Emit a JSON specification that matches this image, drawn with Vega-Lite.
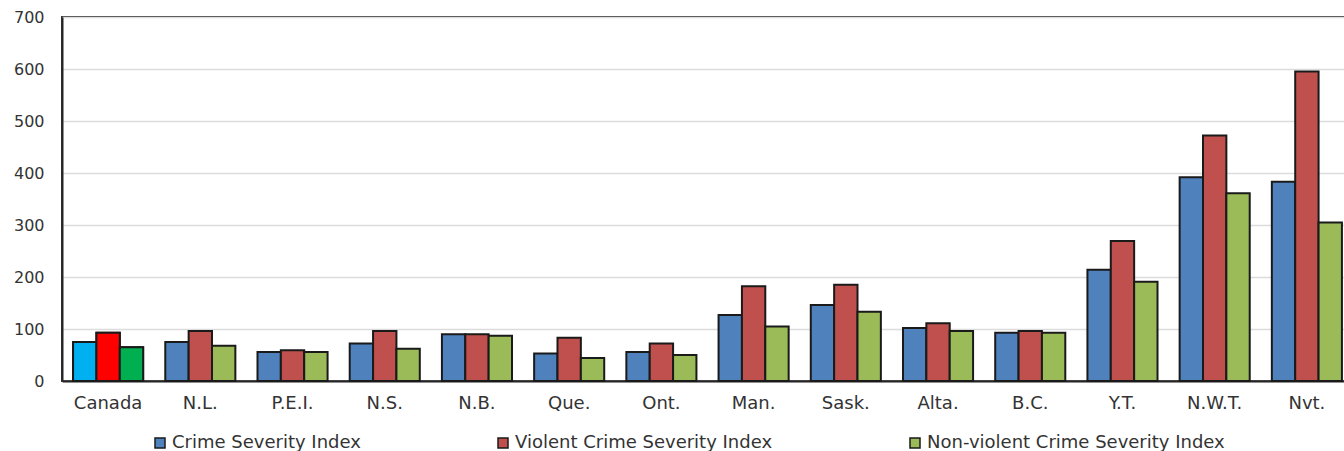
{
  "$schema": "https://vega.github.io/schema/vega-lite/v6.json",
  "autosize": {"type": "none"},
  "padding": {"left": 62, "top": 17, "right": 0, "bottom": 70},
  "width": 1291,
  "height": 364,
  "background": "#ffffff",
  "config": {
    "font": "DejaVu Sans",
    "view": {"stroke": "#333333", "strokeWidth": 2},
    "axis": {
      "labelFont": "DejaVu Sans",
      "labelColor": "#333333",
      "ticks": false,
      "tickSize": 0,
      "title": null,
      "domainColor": "#262626",
      "domainWidth": 2
    }
  },
  "data": {
    "values": [
      {"region": "Canada", "series": "Crime Severity Index", "value": 75},
      {"region": "Canada", "series": "Violent Crime Severity Index", "value": 93},
      {"region": "Canada", "series": "Non-violent Crime Severity Index", "value": 65},
      {"region": "N.L.", "series": "Crime Severity Index", "value": 75},
      {"region": "N.L.", "series": "Violent Crime Severity Index", "value": 96},
      {"region": "N.L.", "series": "Non-violent Crime Severity Index", "value": 68},
      {"region": "P.E.I.", "series": "Crime Severity Index", "value": 56},
      {"region": "P.E.I.", "series": "Violent Crime Severity Index", "value": 59},
      {"region": "P.E.I.", "series": "Non-violent Crime Severity Index", "value": 56},
      {"region": "N.S.", "series": "Crime Severity Index", "value": 72},
      {"region": "N.S.", "series": "Violent Crime Severity Index", "value": 96},
      {"region": "N.S.", "series": "Non-violent Crime Severity Index", "value": 62},
      {"region": "N.B.", "series": "Crime Severity Index", "value": 90},
      {"region": "N.B.", "series": "Violent Crime Severity Index", "value": 90},
      {"region": "N.B.", "series": "Non-violent Crime Severity Index", "value": 87},
      {"region": "Que.", "series": "Crime Severity Index", "value": 53},
      {"region": "Que.", "series": "Violent Crime Severity Index", "value": 83},
      {"region": "Que.", "series": "Non-violent Crime Severity Index", "value": 44},
      {"region": "Ont.", "series": "Crime Severity Index", "value": 56},
      {"region": "Ont.", "series": "Violent Crime Severity Index", "value": 72},
      {"region": "Ont.", "series": "Non-violent Crime Severity Index", "value": 50},
      {"region": "Man.", "series": "Crime Severity Index", "value": 127},
      {"region": "Man.", "series": "Violent Crime Severity Index", "value": 182},
      {"region": "Man.", "series": "Non-violent Crime Severity Index", "value": 105},
      {"region": "Sask.", "series": "Crime Severity Index", "value": 146},
      {"region": "Sask.", "series": "Violent Crime Severity Index", "value": 185},
      {"region": "Sask.", "series": "Non-violent Crime Severity Index", "value": 133},
      {"region": "Alta.", "series": "Crime Severity Index", "value": 102},
      {"region": "Alta.", "series": "Violent Crime Severity Index", "value": 111},
      {"region": "Alta.", "series": "Non-violent Crime Severity Index", "value": 96},
      {"region": "B.C.", "series": "Crime Severity Index", "value": 93},
      {"region": "B.C.", "series": "Violent Crime Severity Index", "value": 96},
      {"region": "B.C.", "series": "Non-violent Crime Severity Index", "value": 93},
      {"region": "Y.T.", "series": "Crime Severity Index", "value": 214},
      {"region": "Y.T.", "series": "Violent Crime Severity Index", "value": 269},
      {"region": "Y.T.", "series": "Non-violent Crime Severity Index", "value": 191},
      {"region": "N.W.T.", "series": "Crime Severity Index", "value": 392},
      {"region": "N.W.T.", "series": "Violent Crime Severity Index", "value": 472},
      {"region": "N.W.T.", "series": "Non-violent Crime Severity Index", "value": 361},
      {"region": "Nvt.", "series": "Crime Severity Index", "value": 383},
      {"region": "Nvt.", "series": "Violent Crime Severity Index", "value": 595},
      {"region": "Nvt.", "series": "Non-violent Crime Severity Index", "value": 305}
    ]
  },
  "encoding": {
    "x": {
      "field": "region",
      "type": "nominal",
      "sort": null,
      "scale": {"paddingInner": 0.24, "paddingOuter": 0.12},
      "axis": {"labelAngle": 0, "labelFontSize": 18, "labelPadding": 13, "domain": true}
    },
    "xOffset": {
      "field": "series",
      "type": "nominal",
      "scale": {
        "domain": ["Crime Severity Index", "Violent Crime Severity Index", "Non-violent Crime Severity Index"],
        "paddingInner": 0,
        "paddingOuter": 0
      }
    },
    "y": {
      "field": "value",
      "type": "quantitative",
      "scale": {"domain": [0, 700], "nice": false},
      "axis": {
        "values": [0, 100, 200, 300, 400, 500, 600, 700],
        "labelFontSize": 16,
        "labelPadding": 18,
        "grid": true,
        "gridColor": "#dcdcdc",
        "gridWidth": 1.5
      }
    }
  },
  "layer": [
    {
      "mark": {"type": "bar", "stroke": "#1a1a1a", "strokeWidth": 2},
      "encoding": {
        "color": {
          "field": "series",
          "type": "nominal",
          "scale": {
            "domain": ["Crime Severity Index", "Violent Crime Severity Index", "Non-violent Crime Severity Index"],
            "range": ["#4f81bd", "#c0504d", "#9bbb59"]
          },
          "legend": {
            "title": null,
            "orient": "none",
            "legendX": 89,
            "legendY": 417,
            "direction": "horizontal",
            "columnPadding": 133,
            "symbolType": "square",
            "symbolSize": 100,
            "symbolStrokeColor": "#1a1a1a",
            "symbolStrokeWidth": 1.5,
            "symbolOpacity": 1,
            "labelFont": "DejaVu Sans",
            "labelFontSize": 18,
            "labelColor": "#333333",
            "labelOffset": 3,
            "labelLimit": 400
          }
        }
      }
    },
    {
      "transform": [{"filter": "datum.region === 'Canada'"}],
      "mark": {"type": "bar", "stroke": "#1a1a1a", "strokeWidth": 2},
      "encoding": {
        "color": {
          "field": "series",
          "type": "nominal",
          "scale": {
            "domain": ["Crime Severity Index", "Violent Crime Severity Index", "Non-violent Crime Severity Index"],
            "range": ["#00b0f0", "#ff0000", "#00b050"]
          },
          "legend": null
        }
      }
    }
  ],
  "resolve": {"scale": {"color": "independent"}}
}
